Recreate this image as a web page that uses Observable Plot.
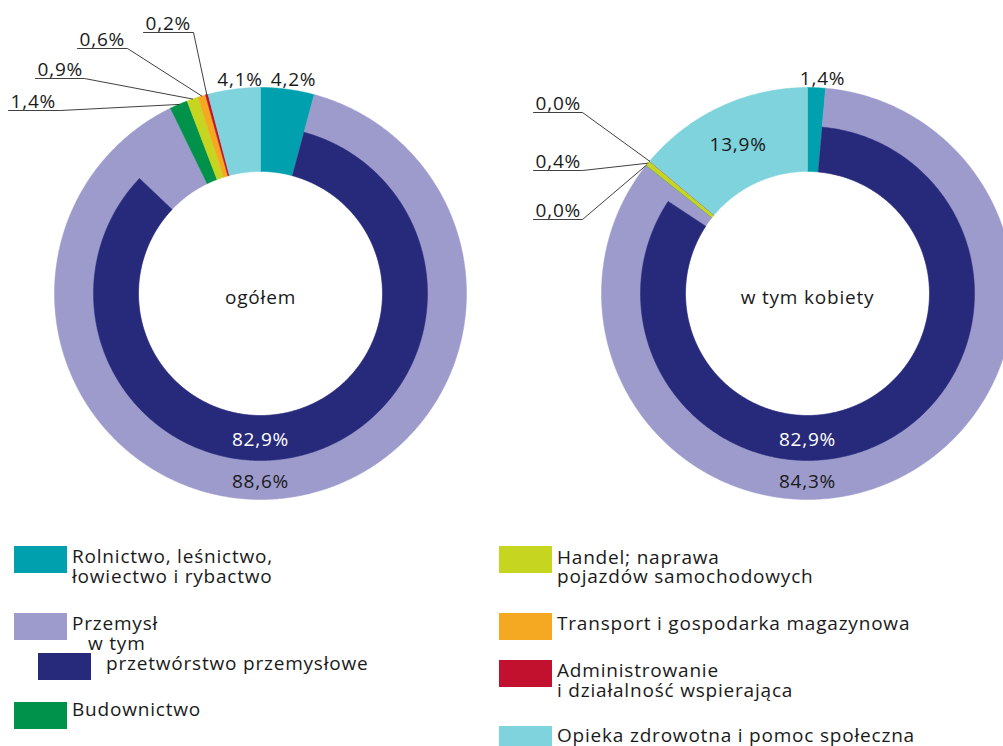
<!DOCTYPE html>
<html><head><meta charset="utf-8">
<script src="https://cdn.jsdelivr.net/npm/d3@7"></script>
<script src="https://cdn.jsdelivr.net/npm/@observablehq/plot@0.6"></script>
<style>
body{margin:0;background:#fff;}
#wrap{position:relative;width:1003px;height:746px;overflow:hidden;font-family:"Open Sans",sans-serif;}
#legend{position:absolute;left:0;top:520px;}
</style></head><body><div id="wrap"><div id="chart"></div><div id="legend"></div></div>
<script>
// ---------- data ----------
const keys = ["rol","prz","bud","han","tra","adm","opi"];
const categories = [
  "Rolnictwo, leśnictwo, łowiectwo i rybactwo",
  "Przemysł",
  "Budownictwo",
  "Handel; naprawa pojazdów samochodowych",
  "Transport i gospodarka magazynowa",
  "Administrowanie i działalność wspierająca",
  "Opieka zdrowotna i pomoc społeczna"
];
const ogolem  = [4.2, 88.6, 1.4, 0.9, 0.6, 0.2, 4.1];
const kobiety = [1.4, 84.3, 0.0, 0.4, 0.0, 0.0, 13.9];
const przetworstwo = [82.9, 82.9];          // ogółem, w tym kobiety
const chartTitles = ["ogółem", "w tym kobiety"];
const subLabel = "przetwórstwo przemysłowe";
const colors = ["#00a0af","#9d9bcc","#00924a","#c6d520","#f5a822","#c1112f","#7fd3dc"];
const darkColor = "#272a7b";
const series = [ogolem, kobiety];

// ---------- layout ----------
const W = 1003, H = 520, R = 206;
const CX = [260, 807], CY = 293;
const r0 = 122 / R, r1 = 167 / R;          // hole radius, inner-ring outer radius
const ux = c => (CX[c] - CX[0]) / R;       // center in R units
const fmt = v => v.toFixed(1).replace(".", ",") + "%";

// leader labels: elbow offsets (px from center) and underline length
const leaderLayout = [
  {chart:0, key:"adm", ex:-67,  ey:-261, len:50},
  {chart:0, key:"tra", ex:-133, ey:-245, len:50},
  {chart:0, key:"han", ex:-176, ey:-215, len:49},
  {chart:0, key:"bud", ex:-200, ey:-183, len:52},
  {chart:1, key:"tra", ex:-225, ey:-181, len:49},
  {chart:1, key:"han", ex:-225, ey:-123, len:49},
  {chart:1, key:"bud", ex:-225, ey:-74,  len:49}
];
const directLabels = [
  {chart:0, key:"rol", pos:"out"},
  {chart:0, key:"opi", pos:"out"},
  {chart:1, key:"rol", pos:"out"},
  {chart:1, key:"opi", pos:"in"}
];

function arc(cx, f0, f1, ra, rb) {
  const a0 = f0 * 2 * Math.PI, a1 = f1 * 2 * Math.PI;
  const n = Math.max(2, Math.ceil(Math.abs(a1 - a0) / (Math.PI / 360)) + 1);
  const pts = [];
  for (let i = 0; i < n; i++) { const a = a0 + (a1 - a0) * i / (n - 1); pts.push({x: cx + rb * Math.sin(a), y: rb * Math.cos(a)}); }
  for (let i = n - 1; i >= 0; i--) { const a = a0 + (a1 - a0) * i / (n - 1); pts.push({x: cx + ra * Math.sin(a), y: ra * Math.cos(a)}); }
  pts.push(pts[0]);
  return pts;
}

// cumulative fractions
const slices = [];
series.forEach((vals, c) => {
  const total = d3.sum(vals);
  let acc = 0;
  vals.forEach((v, i) => {
    const f0 = acc / total; acc += v; const f1 = acc / total;
    slices.push({chart: c, key: keys[i], value: v, f0, f1, color: colors[i]});
  });
});
const sliceOf = (c, k) => slices.find(s => s.chart === c && s.key === k);
const polar = (c, f, r) => ({x: ux(c) + r * Math.sin(f * 2 * Math.PI), y: r * Math.cos(f * 2 * Math.PI)});

const marks = [];
// outer ring slices
slices.forEach(s => {
  marks.push(Plot.line(arc(ux(s.chart), s.f0, s.f1, r0, 1), {x: "x", y: "y", fill: s.color, stroke: s.color, strokeWidth: 0.5}));
});
// inner ring: przetwórstwo przemysłowe
przetworstwo.forEach((v, c) => {
  const p = sliceOf(c, "prz");
  marks.push(Plot.line(arc(ux(c), p.f0, p.f0 + v / d3.sum(series[c]), r0, r1), {x: "x", y: "y", fill: darkColor, stroke: darkColor, strokeWidth: 0.5}));
});

// bottom labels
const bottomLabels = [];
przetworstwo.forEach((v, c) => {
  bottomLabels.push({x: ux(c), y: -(r0 + r1) / 2, text: fmt(v), fill: "#fff"});
  bottomLabels.push({x: ux(c), y: -(r1 + 1) / 2, text: fmt(sliceOf(c, "prz").value), fill: "#1a1a1a"});
});
marks.push(Plot.text(bottomLabels, {x: "x", y: "y", text: "text", fill: "fill", lineAnchor: "middle", dy: 2}));

// direct labels
const outL = [], inL = [];
directLabels.forEach(d => {
  const s = sliceOf(d.chart, d.key), fm = (s.f0 + s.f1) / 2;
  if (d.pos === "out") outL.push({...polar(d.chart, fm, 1), text: fmt(s.value)});
  else inL.push({...polar(d.chart, fm, (r0 + 1) / 2), text: fmt(s.value)});
});
marks.push(Plot.text(outL, {x: "x", y: "y", text: "text", fill: "#1a1a1a", lineAnchor: "bottom", dy: -3, dx: 6}));
marks.push(Plot.text(inL, {x: "x", y: "y", text: "text", fill: "#1a1a1a", lineAnchor: "middle"}));

// leaders
const leaderPts = [], leaderText = [];
leaderLayout.forEach((l, i) => {
  const s = sliceOf(l.chart, l.key), fm = (s.f0 + s.f1) / 2;
  const p = polar(l.chart, fm, 1);
  const ex = ux(l.chart) + l.ex / R, ey = -l.ey / R;
  leaderPts.push({...p, id: i}, {x: ex, y: ey, id: i}, {x: ex - l.len / R, y: ey, id: i});
  leaderText.push({x: ex - l.len / R, y: ey, text: fmt(s.value)});
});
marks.push(Plot.line(leaderPts, {x: "x", y: "y", z: "id", stroke: "#2a2a2a", strokeWidth: 0.9}));
marks.push(Plot.text(leaderText, {x: "x", y: "y", text: "text", textAnchor: "start", lineAnchor: "bottom", dx: 2, dy: -3, fill: "#1a1a1a"}));

// center titles
marks.push(Plot.text(chartTitles.map((t, c) => ({x: ux(c), y: -4 / R, text: t})), {x: "x", y: "y", text: "text", fill: "#1a1a1a", lineAnchor: "middle"}));

const plot = Plot.plot({
  width: W, height: H,
  margin: 0,
  x: {domain: [-CX[0] / R, (W - CX[0]) / R], axis: null},
  y: {domain: [-(H - CY) / R, CY / R], axis: null},
  style: {fontFamily: "Open Sans, sans-serif", fontSize: "19px", letterSpacing: "0.8px", background: "#fff", overflow: "hidden"},
  marks
});
document.getElementById("chart").appendChild(plot);

// ---------- legend ----------
const legendItems = [
  {color: colors[0], sx: 14, sy: 546, tx: 72, lines: [["Rolnictwo, leśnictwo,", 563], ["łowiectwo i rybactwo", 583]]},
  {color: colors[1], sx: 14, sy: 613, tx: 72, lines: [["Przemysł", 630]]},
  {color: null, sx: 0, sy: 0, tx: 88, lines: [["w tym", 650]]},
  {color: darkColor, sx: 38, sy: 653, tx: 106, lines: [[subLabel, 670]]},
  {color: colors[2], sx: 14, sy: 702, tx: 72, lines: [["Budownictwo", 716]]},
  {color: colors[3], sx: 499, sy: 546, tx: 557, lines: [["Handel; naprawa", 564], ["pojazdów samochodowych", 583]]},
  {color: colors[4], sx: 499, sy: 613, tx: 557, lines: [["Transport i gospodarka magazynowa", 630]]},
  {color: colors[5], sx: 499, sy: 660, tx: 557, lines: [["Administrowanie", 677], ["i działalność wspierająca", 697]]},
  {color: colors[6], sx: 499, sy: 726, tx: 557, lines: [["Opieka zdrowotna i pomoc społeczna", 742]]}
];
const top0 = 520;
const lsvg = d3.select("#legend").append("svg").attr("width", W).attr("height", 746 - top0)
  .style("font-family", "Open Sans, sans-serif").style("font-size", "19px").style("letter-spacing", "0.8px");
legendItems.forEach(it => {
  if (it.color) lsvg.append("rect").attr("x", it.sx).attr("y", it.sy - top0).attr("width", 53).attr("height", 27).attr("fill", it.color);
  it.lines.forEach(([t, b]) => lsvg.append("text").attr("x", it.tx).attr("y", b - top0).attr("fill", "#1a1a1a").text(t));
});
</script></body></html>
